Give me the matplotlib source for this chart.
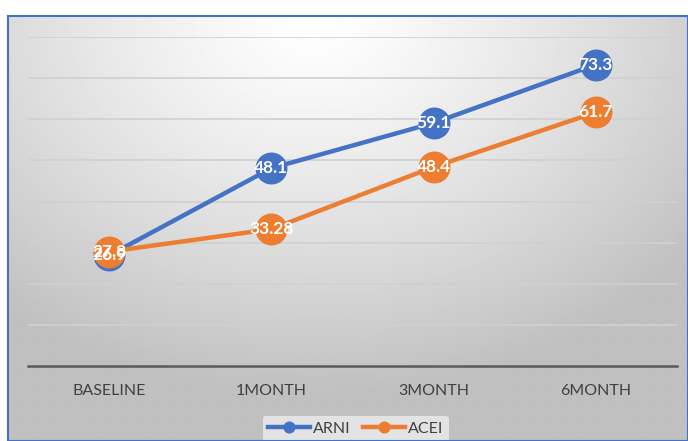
import numpy as np
import matplotlib
matplotlib.use("Agg")
import matplotlib.pyplot as plt
from matplotlib.patches import Rectangle

plt.rcParams['font.family'] = ['Lato', 'DejaVu Sans']

# 随访时间点与两组数值
categories = ["BASELINE", "1MONTH", "3MONTH", "6MONTH"]
arni = [26.9, 48.1, 59.1, 73.3]
acei = [27.8, 33.28, 48.4, 61.7]
arni_labels = ["26.9", "48.1", "59.1", "73.3"]
acei_labels = ["27.8", "33.28", "48.4", "61.7"]

BLUE = "#4472C4"
ORANGE = "#ED7D31"

W, H = 688, 441
fig = plt.figure(figsize=(W / 100, H / 100), dpi=100)
fig.patch.set_facecolor("white")

# 背景：放射状灰色渐变 + 蓝色边框
bx, by = 8 / W, 0.0
bw, bh = 1 - bx, (H - 16) / H
bg = fig.add_axes([bx, by, bw, bh])
gx, gy = np.meshgrid(np.linspace(0, 1, 400), np.linspace(0, 1, 300))
r = np.sqrt(((gx - 0.45) / 1.0) ** 2 + ((gy - 0.0) / 1.25) ** 2)
shade = 1.0 - 0.25 * np.clip(r / 0.72, 0, 1) ** 1.25
bg.imshow(shade, cmap="gray", vmin=0, vmax=1, aspect="auto",
          extent=[0, 1, 1, 0], interpolation="bilinear")
bg.set_xlim(0, 1)
bg.set_ylim(1, 0)
bg.axis("off")
fig.patches.append(Rectangle((bx, by), bw, bh, transform=fig.transFigure,
                             fill=False, edgecolor=BLUE, linewidth=1.5))

# 折线图区域
ax = fig.add_axes([28 / W, 75 / H, (677 - 28) / W, (404 - 75) / H])
ax.patch.set_alpha(0)
x = np.arange(len(categories))

ax.plot(x, arni, color=BLUE, linewidth=3.2, marker="o", markersize=22,
        label="ARNI", zorder=3)
ax.plot(x, acei, color=ORANGE, linewidth=3.2, marker="o", markersize=22,
        label="ACEI", zorder=4)

# 数据标签统一画在所有标记之上
for xi, v, s in zip(x, arni, arni_labels):
    ax.text(xi, v, s, color="white", fontsize=12.5, fontweight="bold",
            ha="center", va="center", zorder=6)
for xi, v, s in zip(x, acei, acei_labels):
    ax.text(xi, v, s, color="white", fontsize=12.5, fontweight="bold",
            ha="center", va="center", zorder=6)

ax.set_xlim(-0.5, 3.5)
ax.set_ylim(0, 80)
ax.set_yticks(np.arange(0, 81, 10))
ax.set_yticklabels([])
ax.tick_params(axis="y", length=0)
ax.grid(axis="y", color="#d0d0d0", linewidth=1.2)
ax.set_axisbelow(True)

ax.set_xticks(x)
ax.set_xticklabels(categories, fontsize=11.5, color="#404040")
ax.tick_params(axis="x", length=0, pad=13)

for side in ["left", "right", "top"]:
    ax.spines[side].set_visible(False)
ax.spines["bottom"].set_color("#595959")
ax.spines["bottom"].set_linewidth(1.8)

leg = ax.legend(loc="center", bbox_to_anchor=(0.505, -0.19), ncol=2,
                frameon=True, fontsize=11.5, handlelength=2.6,
                markerscale=0.35, columnspacing=0.8, handletextpad=0.2,
                borderpad=0.35)
leg.get_frame().set_facecolor("#ededed")
leg.get_frame().set_edgecolor("none")
leg.get_frame().set_alpha(0.8)
for t in leg.get_texts():
    t.set_color("#404040")

fig.savefig("out.png", dpi=100)
